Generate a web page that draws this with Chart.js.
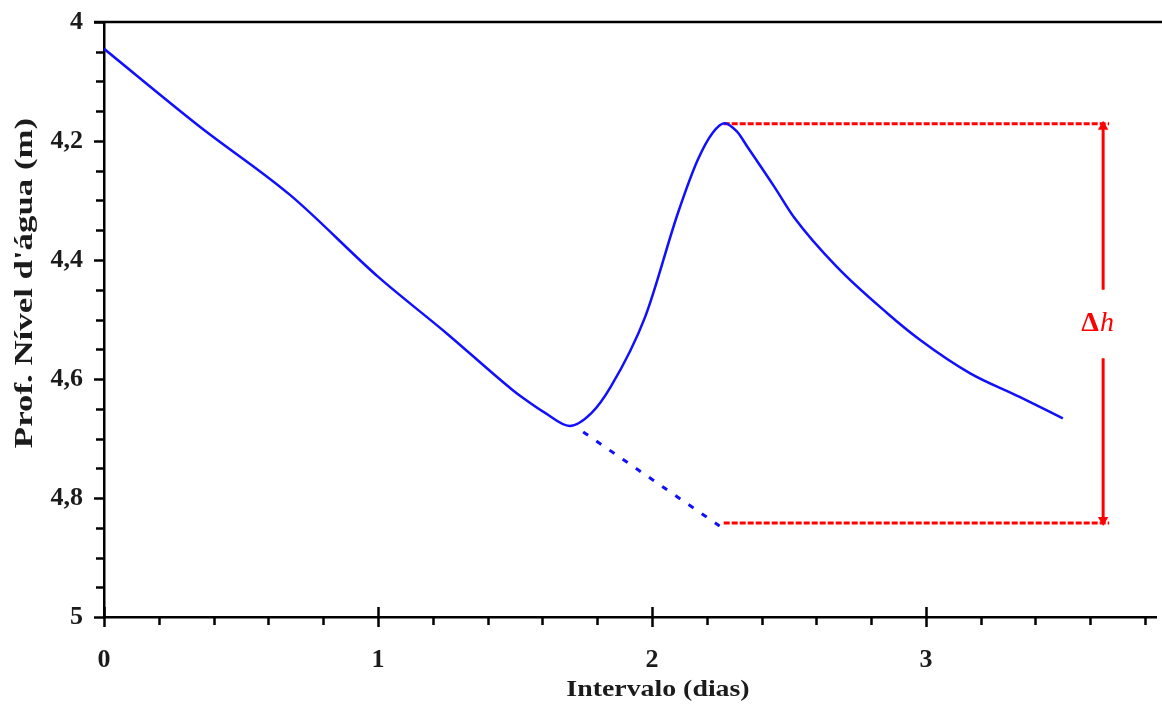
<!DOCTYPE html>
<html>
<head>
<meta charset="utf-8">
<script src="https://cdn.jsdelivr.net/npm/chart.js@4.4.0/dist/chart.umd.min.js"></script>
<style>
  html, body { margin: 0; padding: 0; background: #fff; }
  #wrap { width: 1162px; height: 704px; }
</style>
</head>
<body>
<div id="wrap"><canvas id="chart" width="1162" height="704"></canvas></div>
<script>
// curva do nível d'água (dias, profundidade em m)
const dayX = [0, 0.35, 0.68, 1.00, 1.25, 1.49, 1.53, 1.61, 1.70, 1.78, 1.85, 1.975, 2.095, 2.167, 2.222, 2.265, 2.31, 2.349, 2.447, 2.52, 2.676, 2.858, 2.978, 3.16, 3.342, 3.50];
const depthY = [4.045, 4.176, 4.291, 4.428, 4.523, 4.618, 4.632, 4.657, 4.679, 4.657, 4.613, 4.496, 4.321, 4.232, 4.186, 4.170, 4.184, 4.210, 4.277, 4.329, 4.412, 4.489, 4.534, 4.590, 4.630, 4.666];

// extrapolação da recessão (tracejado)
const extX = [1.749, 2.247];
const extY = [4.689, 4.847];

// linhas de referência do Δh
const refX = [2.262, 3.669];
const refTopY = 4.171;
const refBottomY = 4.842;
const arrowX = 3.647;
const arrowUpperY = [4.176, 4.45];
const arrowLowerY = [4.565, 4.837];
const deltaLabelY = 4.507;

// eixos
const xMin = 0, xMax = 3.84;
const yMin = 4, yMax = 5;
const xTickValues = [0, 0.2, 0.4, 0.6, 0.8, 1, 1.2, 1.4, 1.6, 1.8, 2, 2.2, 2.4, 2.6, 2.8, 3, 3.2, 3.4, 3.6, 3.8];
const yTickValues = [4, 4.05, 4.1, 4.15, 4.2, 4.25, 4.3, 4.35, 4.4, 4.45, 4.5, 4.55, 4.6, 4.65, 4.7, 4.75, 4.8, 4.85, 4.9, 4.95, 5];
const xTitle = 'Intervalo (dias)';
const yTitle = "Prof. Nível d'água (m)";

const BLUE = '#1010ff';
const RED = '#ff0000';
const INK = '#1b1b1b';
const SERIF = '"Liberation Serif", "DejaVu Serif", serif';

function pts(xs, ys) {
    return xs.map(function(x, i) { return { x: x, y: Array.isArray(ys) ? ys[i] : ys }; });
}

function isMultiple(v, step) {
    const r = v / step;
    return Math.abs(r - Math.round(r)) < 1e-6;
}

// marcas dos eixos, linha superior, títulos e rótulo Δh
const decorPlugin = {
    id: 'decor',
    afterDraw: function(chart) {
        const ctx = chart.ctx;
        const xs = chart.scales.x;
        const ys = chart.scales.y;
        const area = chart.chartArea;
        ctx.save();
        ctx.strokeStyle = '#000';
        ctx.lineWidth = 2.5;

        // linha superior
        ctx.beginPath();
        ctx.moveTo(area.left - 10, area.top);
        ctx.lineTo(chart.width, area.top);
        ctx.stroke();

        // marcas do eixo x
        xTickValues.forEach(function(v) {
            const px = Math.round(xs.getPixelForValue(v)) + 0.5;
            const major = isMultiple(v, 1);
            ctx.beginPath();
            ctx.moveTo(px, area.bottom - (major ? 10 : 0));
            ctx.lineTo(px, area.bottom + (major ? 10 : 8));
            ctx.stroke();
        });

        // marcas do eixo y
        yTickValues.forEach(function(v) {
            const py = Math.round(ys.getPixelForValue(v)) + 0.5;
            const major = isMultiple(v, 0.2);
            ctx.beginPath();
            ctx.moveTo(area.left - (major ? 10 : 8), py);
            ctx.lineTo(area.left, py);
            ctx.stroke();
        });

        // títulos (fonte levemente alongada como no original)
        ctx.fillStyle = INK;
        ctx.textAlign = 'center';
        ctx.textBaseline = 'middle';
        ctx.font = 'bold 24px ' + SERIF;
        ctx.save();
        ctx.translate(658, 690);
        ctx.scale(1.16, 1);
        ctx.fillText(xTitle, 0, 0);
        ctx.restore();

        ctx.save();
        ctx.translate(25, 283);
        ctx.rotate(-Math.PI / 2);
        ctx.scale(1.34, 1);
        ctx.font = 'bold 26px ' + SERIF;
        ctx.fillText(yTitle, 0, 0);
        ctx.restore();

        // rótulo Δh
        const lx = xs.getPixelForValue(arrowX) - 6;
        const ly = ys.getPixelForValue(deltaLabelY);
        ctx.fillStyle = RED;
        ctx.textBaseline = 'middle';
        ctx.font = 'bold 28px ' + SERIF;
        const dw = ctx.measureText('Δ').width;
        ctx.font = 'italic 28px ' + SERIF;
        const hw = ctx.measureText('h').width;
        const start = lx - (dw + hw) / 2;
        ctx.textAlign = 'left';
        ctx.font = 'bold 28px ' + SERIF;
        ctx.fillText('Δ', start, ly);
        ctx.font = 'italic 28px ' + SERIF;
        ctx.fillText('h', start + dw + 1, ly);

        ctx.restore();
    }
};

document.addEventListener('DOMContentLoaded', function() {
    const ctx = document.getElementById('chart').getContext('2d');

    new Chart(ctx, {
        type: 'scatter',
        data: {
            datasets: [
                {
                    data: pts(dayX, depthY),
                    showLine: true,
                    borderColor: BLUE,
                    borderWidth: 2.5,
                    pointRadius: 0,
                    cubicInterpolationMode: 'monotone'
                },
                {
                    data: pts(extX, extY),
                    showLine: true,
                    borderColor: BLUE,
                    borderWidth: 3,
                    borderDash: [6, 10],
                    pointRadius: 0
                },
                {
                    data: pts(refX, refTopY),
                    showLine: true,
                    borderColor: RED,
                    borderWidth: 3,
                    borderDash: [6, 2],
                    pointRadius: 0
                },
                {
                    data: pts(refX, refBottomY),
                    showLine: true,
                    borderColor: RED,
                    borderWidth: 3,
                    borderDash: [6, 2],
                    pointRadius: 0
                },
                {
                    data: pts([arrowX, arrowX], arrowUpperY),
                    showLine: true,
                    borderColor: RED,
                    backgroundColor: RED,
                    borderWidth: 3,
                    pointStyle: 'triangle',
                    pointRadius: [6, 0],
                    pointBorderWidth: 0,
                    rotation: 0
                },
                {
                    data: pts([arrowX, arrowX], arrowLowerY),
                    showLine: true,
                    borderColor: RED,
                    backgroundColor: RED,
                    borderWidth: 3,
                    pointStyle: 'triangle',
                    pointRadius: [0, 6],
                    pointBorderWidth: 0,
                    rotation: 180
                }
            ]
        },
        options: {
            responsive: false,
            animation: false,
            layout: { padding: { top: 22, right: 2, left: 0, bottom: 0 } },
            plugins: {
                legend: { display: false },
                tooltip: { enabled: false }
            },
            scales: {
                x: {
                    type: 'linear',
                    min: xMin,
                    max: xMax,
                    afterFit: function(scale) {
                        scale.height = 87;
                        scale.paddingLeft = 0;
                        scale.paddingRight = 0;
                    },
                    afterBuildTicks: function(scale) {
                        scale.ticks = xTickValues.map(function(v) { return { value: v }; });
                    },
                    grid: { display: false, drawTicks: false },
                    border: { display: true, color: '#000', width: 2.5 },
                    ticks: {
                        autoSkip: false,
                        maxRotation: 0,
                        padding: 28,
                        color: INK,
                        font: { family: SERIF, size: 26, weight: 'bold' },
                        callback: function(v) {
                            return isMultiple(v, 1) ? String(Math.round(v)) : '';
                        }
                    }
                },
                y: {
                    type: 'linear',
                    reverse: true,
                    min: yMin,
                    max: yMax,
                    afterFit: function(scale) {
                        scale.width = 104;
                        scale.paddingTop = 0;
                        scale.paddingBottom = 0;
                    },
                    afterBuildTicks: function(scale) {
                        scale.ticks = yTickValues.map(function(v) { return { value: v }; });
                    },
                    grid: { display: false, drawTicks: false },
                    border: { display: true, color: '#000', width: 2.5 },
                    ticks: {
                        autoSkip: false,
                        padding: 21,
                        color: INK,
                        font: { family: SERIF, size: 26, weight: 'bold' },
                        callback: function(v) {
                            if (!isMultiple(v, 0.2)) return '';
                            return String(Math.round(v * 10) / 10).replace('.', ',');
                        }
                    }
                }
            }
        },
        plugins: [decorPlugin]
    });
});
</script>
</body>
</html>
